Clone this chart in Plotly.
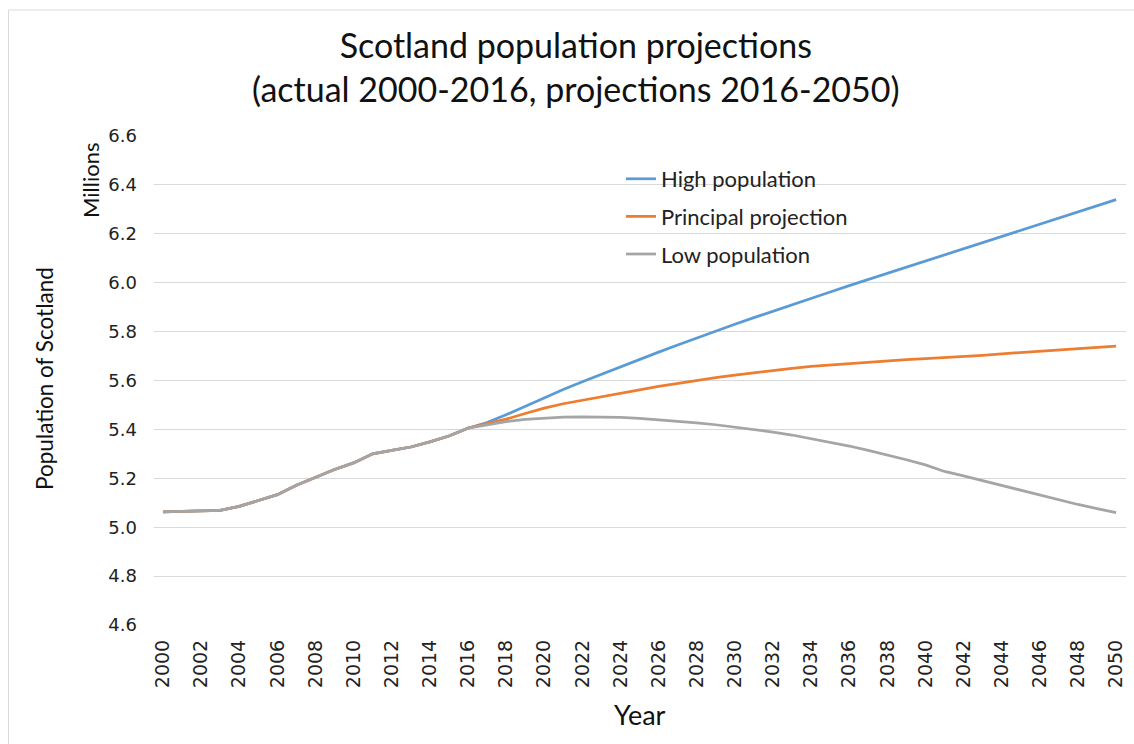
import plotly.graph_objects as go

# Mid-year population, millions
actual_years = [2000, 2001, 2002, 2003, 2004, 2005, 2006, 2007, 2008,
                2009, 2010, 2011, 2012, 2013, 2014, 2015, 2016]
actual_pop = [5.063, 5.064, 5.066, 5.069, 5.085, 5.110, 5.133, 5.172, 5.205,
              5.236, 5.263, 5.300, 5.314, 5.328, 5.349, 5.373, 5.405]

proj_years = [2017, 2018, 2019, 2020, 2021, 2022, 2023, 2024, 2025, 2026,
              2027, 2028, 2029, 2030, 2031, 2032, 2033, 2034, 2035, 2036,
              2037, 2038, 2039, 2040, 2041, 2042, 2043, 2044, 2045, 2046,
              2047, 2048, 2049, 2050]

high_proj = [5.428, 5.460, 5.495, 5.530, 5.563, 5.595, 5.626, 5.656, 5.686, 5.716,
             5.745, 5.774, 5.802, 5.830, 5.857, 5.884, 5.910, 5.936, 5.962, 5.988,
             6.013, 6.039, 6.064, 6.090, 6.115, 6.140, 6.165, 6.190, 6.215, 6.240,
             6.265, 6.290, 6.315, 6.340]

principal_proj = [5.422, 5.442, 5.465, 5.487, 5.505, 5.520, 5.535, 5.549, 5.562, 5.576,
                  5.589, 5.601, 5.612, 5.622, 5.632, 5.641, 5.650, 5.658, 5.664, 5.670,
                  5.676, 5.680, 5.685, 5.689, 5.693, 5.698, 5.703, 5.709, 5.714, 5.720,
                  5.725, 5.730, 5.735, 5.741]

low_proj = [5.420, 5.432, 5.441, 5.447, 5.450, 5.451, 5.451, 5.449, 5.445, 5.440,
            5.434, 5.427, 5.419, 5.410, 5.400, 5.389, 5.377, 5.363, 5.348, 5.332,
            5.314, 5.296, 5.276, 5.255, 5.228, 5.210, 5.190, 5.170, 5.150, 5.131,
            5.112, 5.093, 5.076, 5.060]

series_names = ["High population", "Principal projection", "Low population"]
series_colors = ["#5B9BD5", "#ED7D31", "#A5A5A5"]
series_proj = [high_proj, principal_proj, low_proj]

x_ticks = [2000, 2002, 2004, 2006, 2008, 2010, 2012, 2014, 2016, 2018, 2020,
           2022, 2024, 2026, 2028, 2030, 2032, 2034, 2036, 2038, 2040, 2042,
           2044, 2046, 2048, 2050]
y_ticks = [4.6, 4.8, 5.0, 5.2, 5.4, 5.6, 5.8, 6.0, 6.2, 6.4, 6.6]

TEXT_FONT = "Lato, 'Open Sans', sans-serif"
TICK_FONT = "'DejaVu Sans', Verdana, sans-serif"

years = actual_years + proj_years

fig = go.Figure()
for i, (name, color, proj) in enumerate(zip(series_names, series_colors, series_proj)):
    fig.add_trace(go.Scatter(
        x=years,
        y=actual_pop + proj,
        mode="lines",
        name=name,
        legendgroup=f"g{i}",
        line=dict(color=color, width=2.75),
        hoverinfo="x+y+name",
    ))

L, R, T, B = 154, 8, 136, 119
W, H = 1134, 744
pw, ph = W - L - R, H - T - B


def px_x(p):
    return (p - L) / pw


def px_y(p):
    return (H - B - p) / ph


fig.update_layout(
    width=W,
    height=H,
    margin=dict(l=L, r=R, t=T, b=B),
    paper_bgcolor="white",
    plot_bgcolor="white",
    showlegend=True,
    legend=dict(
        x=px_x(621), y=px_y(158), xanchor="left", yanchor="top",
        font=dict(family=TEXT_FONT, size=22, color="#222222"),
        bgcolor="rgba(0,0,0,0)",
        tracegroupgap=6,
        itemwidth=30,
    ),
    xaxis=dict(
        range=[1999.53, 2050.52],
        tickmode="array",
        tickvals=x_ticks,
        ticktext=[str(v) for v in x_ticks],
        tickangle=-90,
        showgrid=False,
        zeroline=False,
        showline=False,
        ticks="",
        ticklabelstandoff=10,
        tickfont=dict(family=TICK_FONT, size=19, color="#222222"),
    ),
    yaxis=dict(
        range=[4.6, 6.6],
        tickmode="array",
        tickvals=y_ticks,
        ticktext=[f"{v:.1f}" for v in y_ticks],
        showgrid=True,
        gridcolor="#D9D9D9",
        gridwidth=1,
        zeroline=False,
        showline=False,
        ticks="",
        ticklabelstandoff=16,
        tickfont=dict(family=TICK_FONT, size=18, color="#222222"),
    ),
    shapes=[
        dict(type="rect", xref="paper", yref="paper",
             x0=px_x(8.5), x1=px_x(1145), y0=px_y(10), y1=px_y(760),
             line=dict(color="#D9D9D9", width=1), fillcolor="rgba(0,0,0,0)",
             layer="below"),
    ],
    annotations=[
        dict(text="Scotland population projections<br>(actual 2000-2016, projections 2016-2050)",
             xref="paper", yref="paper", x=px_x(576), y=px_y(67),
             xanchor="center", yanchor="middle", showarrow=False,
             font=dict(family=TEXT_FONT, size=34, color="#111111")),
        dict(text="Population of Scotland", xref="paper", yref="paper",
             x=px_x(44), y=px_y(379), xanchor="center", yanchor="middle",
             textangle=-90, showarrow=False,
             font=dict(family=TEXT_FONT, size=22.5, color="#111111")),
        dict(text="Millions", xref="paper", yref="paper",
             x=px_x(90), y=px_y(181), xanchor="center", yanchor="middle",
             textangle=-90, showarrow=False,
             font=dict(family=TEXT_FONT, size=22, color="#111111")),
        dict(text="Year", xref="paper", yref="paper",
             x=px_x(640), y=px_y(714), xanchor="center", yanchor="middle",
             showarrow=False,
             font=dict(family=TEXT_FONT, size=27, color="#111111")),
    ],
)

fig.write_html("out.html")
